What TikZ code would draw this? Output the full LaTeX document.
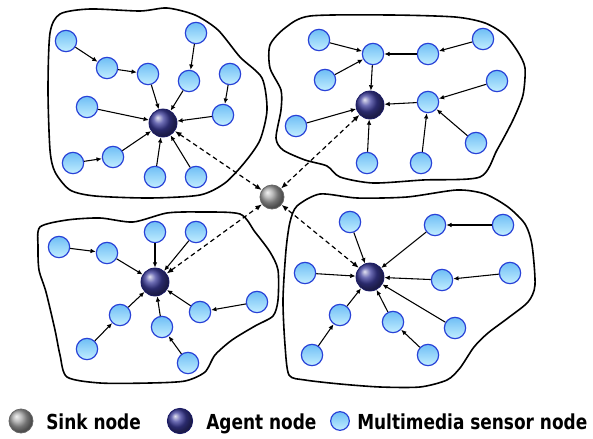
\documentclass[tikz,border=0pt]{standalone}
\usepackage{fontspec}
\setmainfont{Liberation Sans}
\newfontfamily\legendfont{DejaVu Sans}[FakeStretch=0.82]
\usetikzlibrary{arrows.meta,shadings}

\definecolor{sensorline}{RGB}{40,65,215}
\definecolor{sensortop}{RGB}{110,190,245}
\definecolor{sensorbot}{RGB}{195,238,255}
\definecolor{agentblue}{RGB}{60,60,155}
\definecolor{agentline}{RGB}{25,25,100}
\definecolor{sinkgray}{RGB}{165,165,165}

\tikzset{
  sensor/.style={circle, inner sep=0pt, minimum size=16pt, line width=0.9pt,
    draw=sensorline, top color=sensortop, bottom color=sensorbot},
  agent/.style={circle, inner sep=0pt, minimum size=21pt, draw=agentline,
    line width=0.6pt, ball color=agentblue},
  sink/.style={circle, inner sep=0pt, minimum size=18pt, draw=black!60,
    line width=0.6pt, ball color=sinkgray},
  link/.style={line width=0.8pt, -{Latex[length=4pt,width=3.5pt]}},
  uplink/.style={line width=0.9pt, dash pattern={on 3.5pt off 2.5pt},
    {Latex[length=5pt,width=4pt]}-{Latex[length=5pt,width=4pt]}},
  hull/.style={line width=1.2pt, line join=round},
  legendtext/.style={anchor=base west, inner sep=0pt,
    font=\legendfont\bfseries\fontsize{15.5}{17}\selectfont}
}

\begin{document}
\begin{tikzpicture}[x=0.75pt,y=0.75pt,yscale=-1,xscale=1]
\useasboundingbox (0,0) rectangle (593,439);

%Shape: cluster outlines
\draw [hull] plot [smooth cycle, tension=0.45] coordinates {(50,33) (60,14) (90,9) (140,11) (167,8) (195,15) (218,30) (240,57) (262,78) (267,110) (260,140) (245,162) (225,183) (200,195) (150,198) (95,196) (70,190) (55,172) (50,150) (48,90)};
\draw [hull] plot [smooth cycle, tension=0.45] coordinates {(285,28) (310,16) (390,15) (455,17) (485,23) (505,35) (518,52) (525,68) (523,95) (513,120) (497,150) (480,177) (423,180) (373,183) (340,177) (327,166) (305,160) (283,150) (276,138) (281,110) (281,90) (270,68) (270,45)};
\draw [hull] plot [smooth cycle, tension=0.45] coordinates {(40,227) (67,220) (100,218) (133,222) (167,213) (200,212) (240,214) (255,232) (270,252) (278,270) (278,300) (273,316) (255,326) (232,340) (215,355) (205,372) (185,381) (150,383) (100,383) (67,377) (60,355) (55,330) (46,292) (39,270) (38,247)};
\draw [hull] plot [smooth cycle, tension=0.45] coordinates {(297,206) (320,194) (357,198) (407,197) (457,190) (485,194) (508,207) (525,224) (532,245) (535,285) (528,302) (508,318) (488,333) (474,347) (460,368) (447,380) (420,387) (380,387) (340,384) (305,380) (289,375) (285,345) (283,300) (286,250) (290,222)};

%Sink
\node [sink] (sink) at (272,197) {};

%Cluster top left
\node [agent] (a1) at (163,123) {};
\node [sensor] (s1) at (66,41) {};
\node [sensor] (s2) at (107,68) {};
\node [sensor] (s3) at (148,74) {};
\node [sensor] (s4) at (196,33) {};
\node [sensor] (s5) at (189,81) {};
\node [sensor] (s6) at (230,74) {};
\node [sensor] (s7) at (87,107) {};
\node [sensor] (s8) at (223,115) {};
\node [sensor] (s9) at (73,163) {};
\node [sensor] (s10) at (113,157) {};
\node [sensor] (s11) at (155,177) {};
\node [sensor] (s12) at (196,177) {};
\draw [link] (s1) -- (s2);
\draw [link] (s2) -- (s3);
\draw [link] (s3) -- (a1);
\draw [link] (s4) -- (s5);
\draw [link] (s5) -- (a1);
\draw [link] (s6) -- (s8);
\draw [link] (s8) -- (a1);
\draw [link] (s7) -- (a1);
\draw [link] (s9) -- (s10);
\draw [link] (s10) -- (a1);
\draw [link] (s11) -- (a1);
\draw [link] (s12) -- (a1);

%Cluster top right
\node [agent] (a2) at (370,105) {};
\node [sensor] (t1) at (319,40) {};
\node [sensor] (t2) at (373,54) {};
\node [sensor] (t3) at (428,54) {};
\node [sensor] (t4) at (483,39) {};
\node [sensor] (t5) at (325,80) {};
\node [sensor] (t6) at (428,102) {};
\node [sensor] (t7) at (497,81) {};
\node [sensor] (t8) at (296,126) {};
\node [sensor] (t9) at (476,143) {};
\node [sensor] (t10) at (367,163) {};
\node [sensor] (t11) at (421,163) {};
\draw [link] (t1) -- (t2);
\draw [link] (t5) -- (t2);
\draw [link] (t4) -- (t3);
\draw [link] (t3) -- (t2);
\draw [link] (t2) -- (a2);
\draw [link] (t7) -- (t6);
\draw [link] (t9) -- (t6);
\draw [link] (t11) -- (t6);
\draw [link] (t6) -- (a2);
\draw [link] (t8) -- (a2);
\draw [link] (t10) -- (a2);

%Cluster bottom left
\node [agent] (a3) at (155,282) {};
\node [sensor] (b1) at (59,247) {};
\node [sensor] (b2) at (107,253) {};
\node [sensor] (b3) at (155,232) {};
\node [sensor] (b4) at (196,232) {};
\node [sensor] (b5) at (257,302) {};
\node [sensor] (b6) at (200,312) {};
\node [sensor] (b7) at (120,315) {};
\node [sensor] (b8) at (162,327) {};
\node [sensor] (b9) at (87,349) {};
\node [sensor] (b10) at (188,363) {};
\draw [link] (b1) -- (b2);
\draw [link] (b2) -- (a3);
\draw [link] (b3) -- (a3);
\draw [link] (b4) -- (a3);
\draw [link] (b5) -- (b6);
\draw [link] (b6) -- (a3);
\draw [link] (b9) -- (b7);
\draw [link] (b7) -- (a3);
\draw [link] (b10) -- (b8);
\draw [link] (b8) -- (a3);

%Cluster bottom right
\node [agent] (a4) at (370,277) {};
\node [sensor] (r1) at (350,222) {};
\node [sensor] (r2) at (435,225) {};
\node [sensor] (r3) at (503,225) {};
\node [sensor] (r4) at (305,273) {};
\node [sensor] (r5) at (442,280) {};
\node [sensor] (r6) at (510,273) {};
\node [sensor] (r7) at (340,315) {};
\node [sensor] (r8) at (393,322) {};
\node [sensor] (r9) at (455,328) {};
\node [sensor] (r10) at (312,355) {};
\node [sensor] (r11) at (428,355) {};
\draw [link] (r1) -- (a4);
\draw [link] (r3) -- (r2);
\draw [link] (r2) -- (a4);
\draw [link] (r4) -- (a4);
\draw [link] (r6) -- (r5);
\draw [link] (r5) -- (a4);
\draw [link] (r9) -- (a4);
\draw [link] (r10) -- (r7);
\draw [link] (r7) -- (a4);
\draw [link] (r11) -- (r8);
\draw [link] (r8) -- (a4);

%Straight Lines: agents to sink
\draw [uplink] (a1) -- (sink);
\draw [uplink] (a2) -- (sink);
\draw [uplink] (a3) -- (sink);
\draw [uplink] (a4) -- (sink);

% Legend
\node [sink, minimum size=18pt] (keysink) at (21,421) {};
\node [legendtext] (txtsink) at (46,429) {Sink node};
\node [agent, minimum size=19pt] (keyagent) at (180,421) {};
\node [legendtext] (txtagent) at (206,429) {Agent node};
\node [sensor, minimum size=14pt] (keysensor) at (340,421) {};
\node [legendtext] (txtsensor) at (357,429) {Multimedia sensor node};

\end{tikzpicture}
\end{document}
